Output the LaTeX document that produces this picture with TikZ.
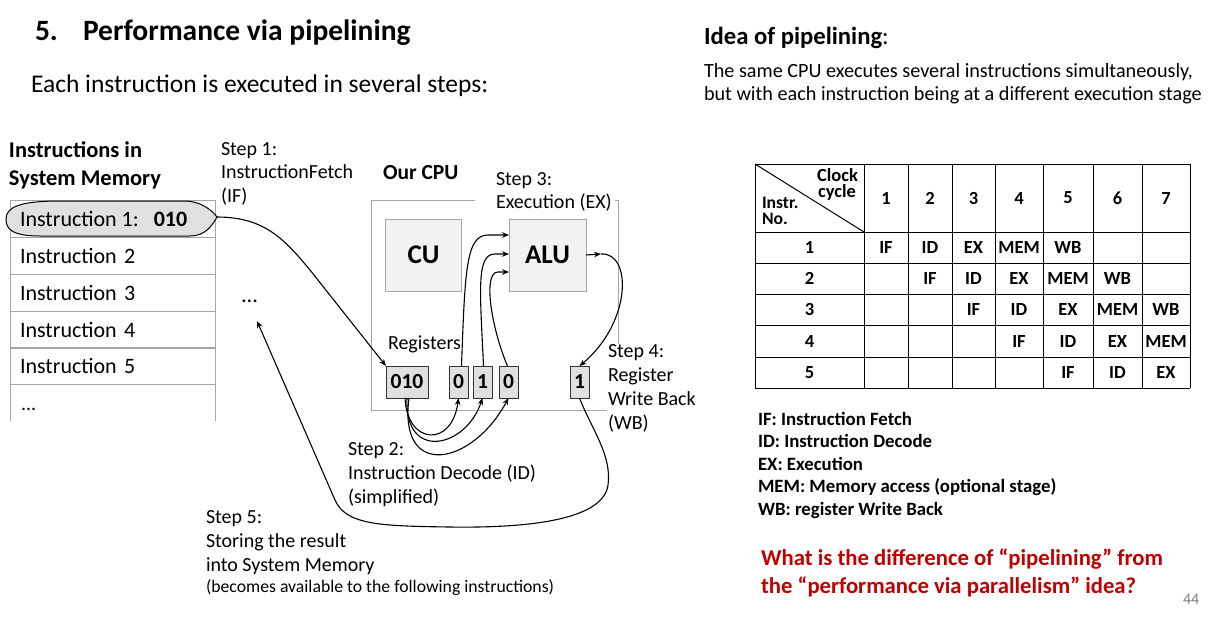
\documentclass[tikz,border=0pt]{standalone}
\usepackage{fontspec}
\setmainfont{Carlito}
\usetikzlibrary{arrows.meta}
\definecolor{dred}{RGB}{192,0,0}
\definecolor{boxgray}{RGB}{166,166,166}
\definecolor{lightfill}{RGB}{242,242,242}
\definecolor{regfill}{RGB}{224,224,224}
\newcommand\fsz[2]{\fontsize{#1}{#2}\selectfont}
\begin{document}
\begin{tikzpicture}[x=1pt,y=-1pt,
  every node/.style={inner sep=0pt, outer sep=0pt},
  txt/.style={anchor=base west, align=left},
  arr/.style={-{Stealth[length=7pt,width=5.5pt]}, line width=1.1pt},
  memrow/.style={draw=boxgray, minimum height=37, text width=185, inner xsep=10, align=left, font=\fsz{22}{26}},
  unit/.style={draw=boxgray, fill=lightfill, minimum width=76, minimum height=72, font=\fsz{27}{30}\bfseries},
  reg/.style={draw=black!80, fill=regfill, line width=0.8pt, minimum height=32, font=\fsz{21.5}{24}\bfseries},
  tab/.style={font=\fsz{18.5}{20}\bfseries},
  tline/.style={line width=1pt, black}]
\useasboundingbox (0,0) rectangle (1222,641);

% ---------- titles ----------
\node[txt, font=\fsz{29.5}{32}\bfseries] (num) at (35,40.5) {5.};
\node[txt, font=\fsz{29.5}{32}\bfseries] (title) at (83,40.5) {Performance via pipelining};
\node[txt, font=\fsz{25.5}{28}] (each) at (31,92.5) {Each instruction is executed in several steps:};
\node[txt, font=\fsz{24.7}{28}] (idea) at (704,44) {\textbf{Idea of pipelining}:};
\node[txt, font=\fsz{20.2}{23}] (same) at (704,100) {The same CPU executes several instructions simultaneously,\\but with each instruction being at a different execution stage};

% ---------- memory ----------
\node[txt, font=\fsz{22.5}{28}\bfseries] (memhead) at (9,185) {Instructions in\\System Memory};
\node[memrow] (mem1) at (112.5,218.5) {};
\node[memrow] (mem2) at (112.5,255.5) {Instruction 2};
\node[memrow] (mem3) at (112.5,292.5) {Instruction 3};
\node[memrow] (mem4) at (112.5,329.5) {Instruction 4};
\node[memrow] (mem5) at (112.5,366) {Instruction 5};
\draw[boxgray] (mem5.south west) -- ++(0,36);
\draw[boxgray] (mem5.south east) -- ++(0,36);
\node[txt, font=\fsz{20}{23}] (memdots) at (21,410) {...};
\draw[line width=1pt, fill=regfill] (6,219) .. controls (6,207) and (20,201) .. (60,201) -- (185,201)
  .. controls (200,201) and (212,210) .. (217,217) .. controls (212,226) and (205,236) .. (190,236)
  -- (40,236) .. controls (12,236) and (6,229) .. (6,219) -- cycle;
\node[txt, font=\fsz{22}{26}] (ins1) at (20,226) {Instruction 1:\hspace{15pt}\textbf{010}};
\coordinate (ovalR) at (217,217);

\node[txt, font=\fsz{20}{23.5}] (step1) at (221,202) {Step 1:\\InstructionFetch\\(IF)};
\node[txt, font=\fsz{22.5}{24}] (dots) at (241,302) {...};
\coordinate (dotsin) at (257,321);

% ---------- CPU ----------
\node[draw=boxgray, line width=1pt, minimum width=247, minimum height=210] (cpu) at (494.5,305) {};
\fill[white] (475,197) rectangle (615,204);
\node[txt, font=\fsz{21.5}{24}\bfseries] (cpulbl) at (383,179) {Our CPU};
\node[txt, font=\fsz{20}{23}, fill=white, inner xsep=1pt, inner ysep=2pt] (step3) at (495,208) {Step 3:\\Execution (EX)};
\node[unit] (cu) at (423.5,255) {CU};
\node[unit, minimum width=77] (alu) at (547.5,255) {ALU};
\node[txt, font=\fsz{20}{23}] (reglbl) at (388,349) {Registers};
\node[reg, minimum width=42] (r010) at (407,382) {010};
\node[reg, minimum width=19] (ra) at (458.5,382) {0};
\node[reg, minimum width=19] (rb) at (482.5,382) {1};
\node[reg, minimum width=19] (rc) at (508.5,382) {0};
\node[reg, minimum width=19] (rw) at (579.5,382) {1};
\node[txt, font=\fsz{20}{23.7}, fill=white, inner sep=1pt] (step4) at (607,429) {Step 4:\\Register\\Write Back\\(WB)};
\node[txt, font=\fsz{20}{24}] (step2) at (348,503) {Step 2:\\Instruction Decode (ID)\\(simplified)};
\node[txt, font=\fsz{20}{24}] (step5) at (206,571) {Step 5:\\Storing the result\\into System Memory};
\node[txt, font=\fsz{17.7}{20}] (step5b) at (206,592) {(becomes available to the following instructions)};

% ---------- arrows ----------
% IF
\draw[arr] (ovalR) .. controls (265,217) and (285,240) .. (310,270) -- (r010.north west);
% ID
\draw[arr] ([xshift=-2pt]r010.south) .. controls (407,445) and (452,448) .. (ra.south);
\draw[arr] ([xshift=0pt]r010.south) .. controls (404,462) and (466,448) .. (rb.south);
\draw[arr] ([xshift=2pt]r010.south) .. controls (398,480) and (472,466) .. (rc.south);
% EX inputs
\coordinate (aluin1) at (alu.west |- 0,235);
\coordinate (aluin2) at (alu.west |- 0,254);
\coordinate (aluin3) at (alu.west |- 0,272);
\draw[arr] ([xshift=3pt]ra.north) .. controls (465,270) and (466,235) .. (488,235) -- (aluin1);
\draw[arr] ([xshift=1pt]rb.north) .. controls (480,290) and (476,254) .. (495,254) -- (aluin2);
\draw[arr] ([xshift=-1pt]rc.north) .. controls (492,330) and (482,272) .. (498,272) -- (aluin3);
% EX output / WB
\coordinate (aluout) at (601,254);
\draw[arr] (alu.east) -- (aluout);
\draw[arr] (aluout) .. controls (632,252) and (632,322) .. (rw.north);
% store to memory
\draw[arr] (rw.south) .. controls (592,430) and (612,455) .. (608,485)
  .. controls (603,522) and (520,528) .. (450,527)
  .. controls (380,526) and (346,525) .. (335,500) -- (dotsin);

% ---------- table ----------
\def\cols{755,864,908,952,995,1043,1093,1142,1190}
\def\rows{164,232,263,294,325,357,388}
\foreach \x in \cols {\draw[tline] (\x,164) -- (\x,388);}
\foreach \y in \rows {\draw[tline] (755,\y) -- (1190,\y);}
\draw[tline] (755,164) -- (864,232);
\node[anchor=base east, font=\fsz{18.5}{16}\bfseries] (clk) at (858,181) {Clock};
\node[anchor=base east, font=\fsz{18.5}{16}\bfseries] (cyc) at (856,197) {cycle};
\node[anchor=base west, font=\fsz{17.6}{16}\bfseries] (instr) at (762,208) {Instr.};
\node[anchor=base west, font=\fsz{17.6}{16}\bfseries] (no) at (762,224) {No.};
\foreach \c/\xl/\xr in {1/864/908,2/908/952,3/952/995,4/995/1043,5/1043/1093,6/1093/1142,7/1142/1190}
  \node[tab] (h\c) at ({(\xl+\xr)/2},198) {\c};
\foreach \r/\yt/\yb in {1/232/263,2/263/294,3/294/325,4/325/357,5/357/388}{
  \node[tab] (rn\r) at (809.5,{(\yt+\yb)/2}) {\r};
  \foreach \c/\xl/\xr in {1/864/908,2/908/952,3/952/995,4/995/1043,5/1043/1093,6/1093/1142,7/1142/1190}{
    \pgfmathtruncatemacro\s{\c-\r}
    \ifnum\s>-1 \ifnum\s<5
      \node[tab] (cell-\r-\c) at ({(\xl+\xr)/2},{(\yt+\yb)/2}) {\ifcase\s IF\or ID\or EX\or MEM\or WB\fi};
    \fi\fi
  }
}

% ---------- legend ----------
\node[txt, font=\fsz{18.8}{22.6}\bfseries] (legend) at (758,515.5) {IF: Instruction Fetch\\ID: Instruction Decode\\EX: Execution\\MEM: Memory access (optional stage)\\WB: register Write Back};
\node[txt, font=\fsz{22.7}{28}\bfseries, text=dred] (question) at (761,593) {What is the difference of “pipelining” from\\the “performance via parallelism” idea?};
\node[txt, font=\fsz{16}{18}, text=gray] (page) at (1183,604) {44};
\end{tikzpicture}
\end{document}
